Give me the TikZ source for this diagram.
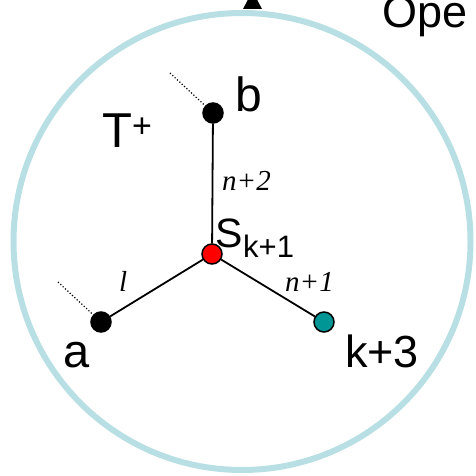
\documentclass[tikz,border=0pt]{standalone}
\usepackage{fontspec}
\setmainfont{Liberation Serif}
\newfontfamily\arial{Liberation Sans}
\definecolor{ringc}{RGB}{184,223,227}
\definecolor{tealc}{RGB}{0,150,150}
\tikzset{
  dotnode/.style={circle,draw=black,line width=1.5pt,minimum size=20pt,inner sep=0pt},
  edge/.style={line width=1.8pt},
  free/.style={dotted,line width=1.2pt},
  lab/.style={font=\arial\fontsize{#1}{#1}\selectfont,inner sep=0pt,anchor=base west},
  elab/.style={font=\itshape\fontsize{29}{29}\selectfont,inner sep=0pt,anchor=base west}
}
\begin{document}
\begin{tikzpicture}[x=1pt,y=-1pt]
\useasboundingbox (0,0) rectangle (476,476);
\node[circle,draw=ringc,line width=6pt,minimum size=457pt,inner sep=0pt] (ring) at (242,241.5) {};
\fill (243,9) -- (262,9) -- (252.5,-9) -- cycle;
\node[lab=45] (open) at (382,28) {Ope};
\node[dotnode,fill=black] (b) at (213,113) {};
\node[dotnode,fill=red] (s) at (212,254) {};
\node[dotnode,fill=black] (a) at (101,322) {};
\node[dotnode,fill=tealc] (k) at (324,322) {};
\coordinate (bf) at (170,73);
\coordinate (af) at (58,282);
\draw[edge] (b) -- (s);
\draw[edge] (s) -- (a);
\draw[edge] (s) -- (k);
\draw[free] (bf) -- (b);
\draw[free] (af) -- (a);
\node[lab=48] (blab) at (235,112) {b};
\node[lab=49] (tlab) at (102,147) {T\raisebox{10pt}{\fontsize{34}{34}\selectfont +}};
\node[lab=47] (alab) at (63,367) {a};
\node[lab=45] (klab) at (345,367) {k+3};
\node[lab=41] (slab) at (215,247) {S};
\node[lab=31] (ssub) at (243,257) {k+1};
\node[elab] (n2) at (222,190) {n+2};
\node[elab] (n1) at (285,291) {n+1};
\node[elab] (l) at (119,291) {l};
\end{tikzpicture}
\end{document}
